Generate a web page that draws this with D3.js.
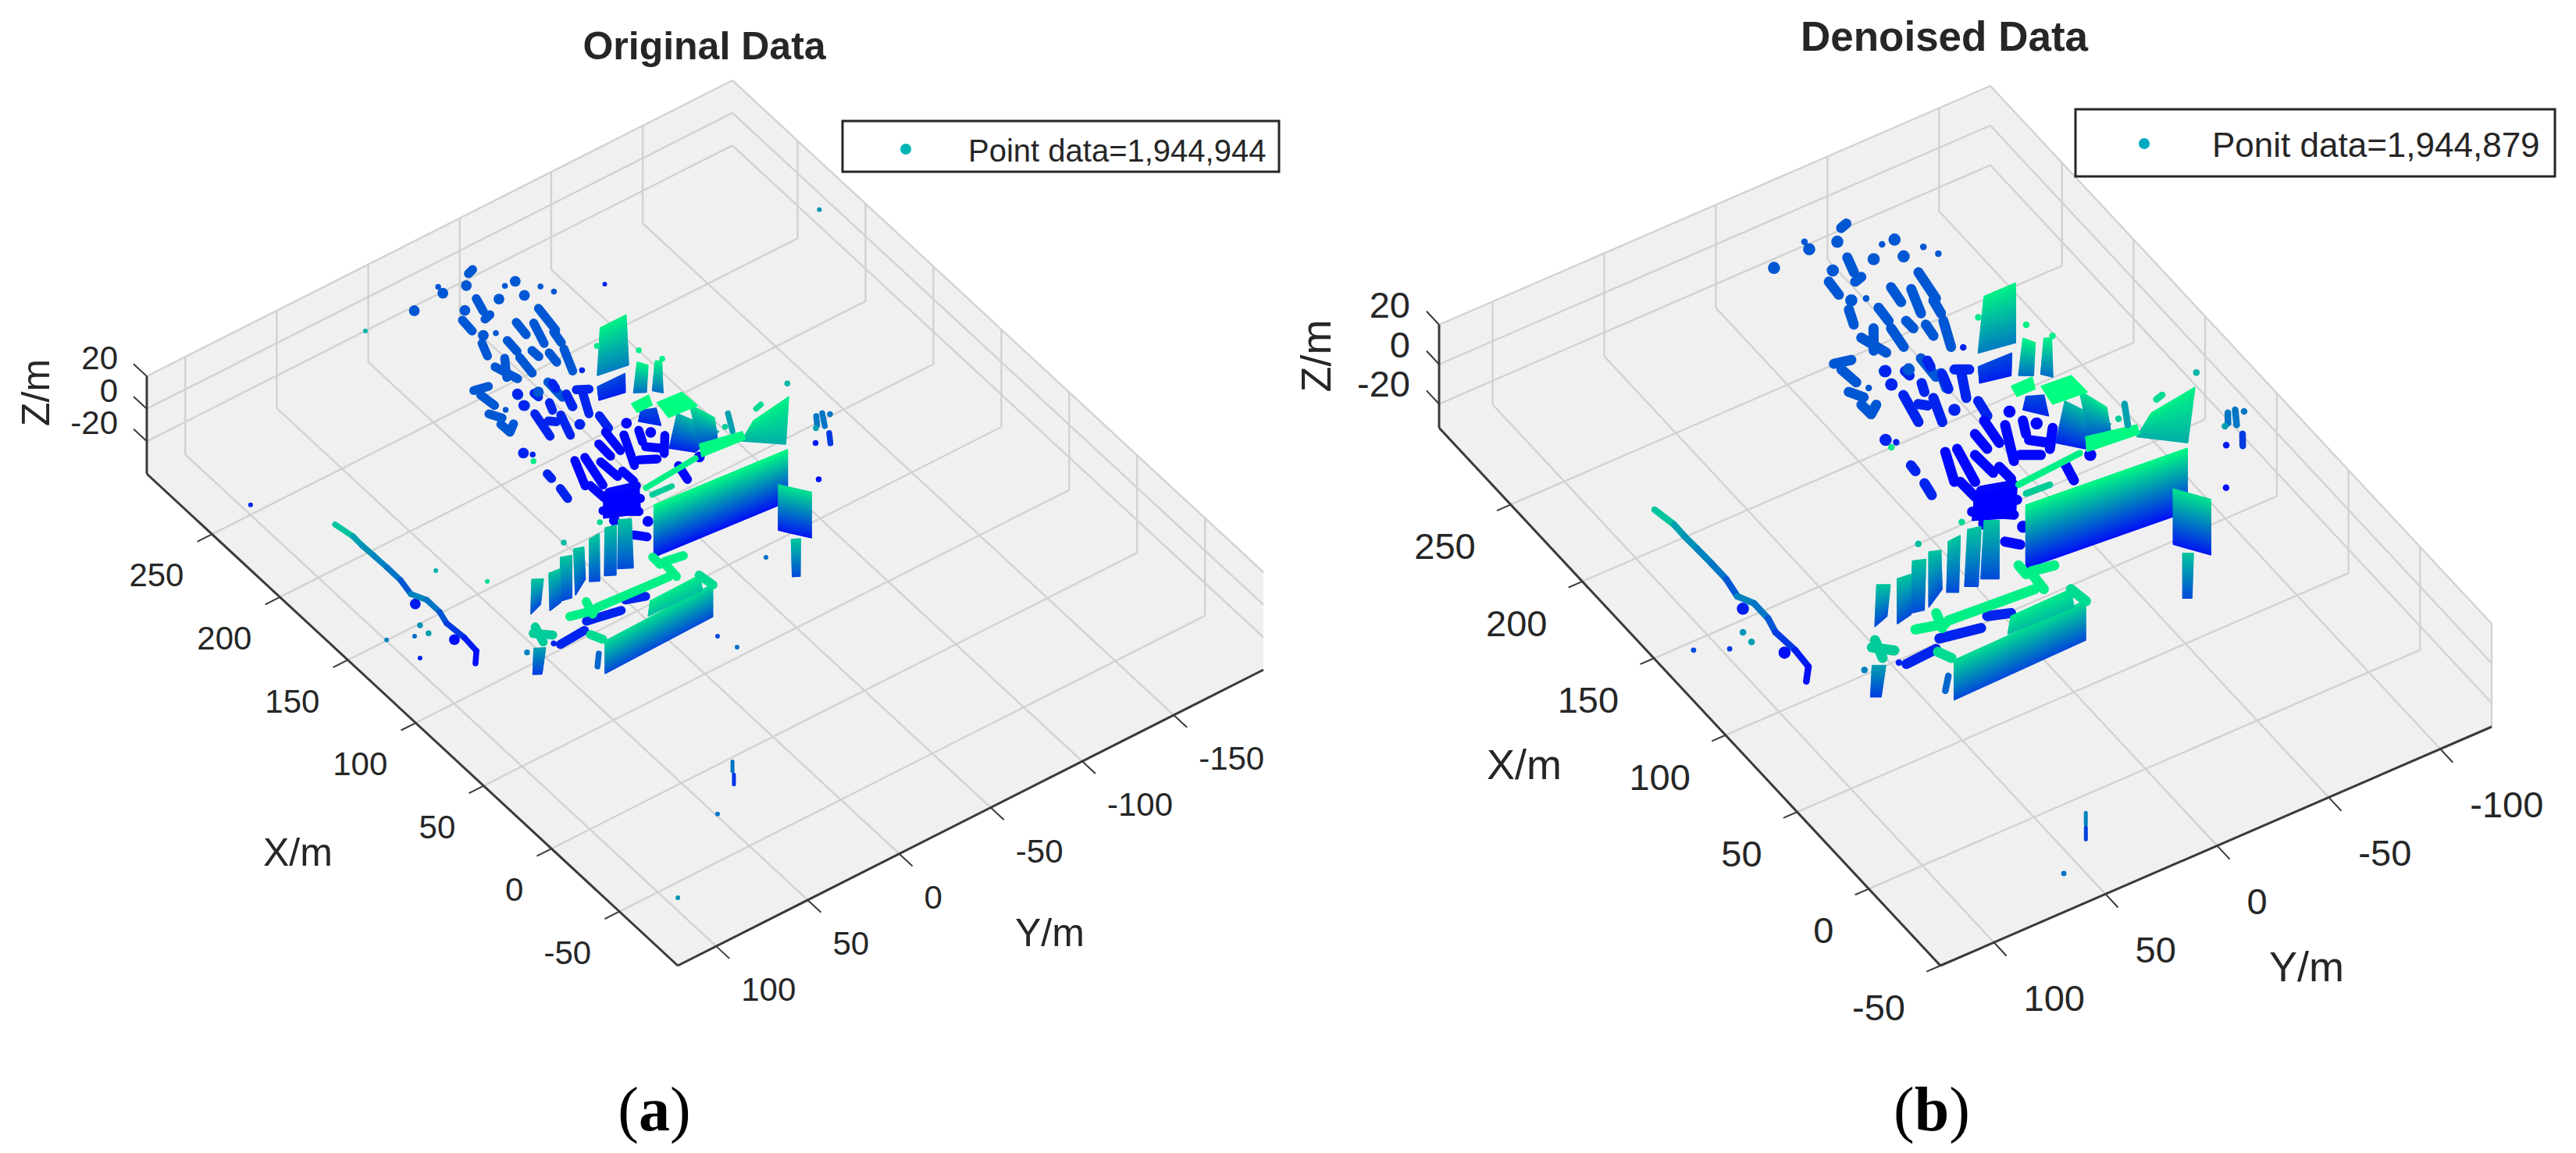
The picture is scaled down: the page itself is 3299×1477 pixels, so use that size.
<!DOCTYPE html>
<html>
<head>
<meta charset="utf-8">
<script src="https://cdn.jsdelivr.net/npm/d3@7"></script>
<style>
  body { margin: 0; background: #fff; }
  text { font-family: "Liberation Sans", Arial, sans-serif; fill: #262626; }
</style>
</head>
<body>
<div id="chart"></div>
<script>
// axis ticks
const xTicks = [-50, 0, 50, 100, 150, 200, 250];
const yTicksA = [100, 50, 0, -50, -100, -150];
const yTicksB = [100, 50, 0, -50, -100];
const zTicks = [20, 0, -20];

// scan rows: x0, y0, x1, y1, z (metres)
const treeRows = [
  [300,-58.5,299,-55.5,-18],[284.1,-48.7,275.9,-46.4,-18],[272.3,-47.4,271.3,-44,-18],
  [276.6,-35.6,268.5,-34.9,-18],[259.6,-33.7,251.7,-30.8,-18],[262.9,-67,247.3,-64.8,-18],
  [261.5,-53.8,252.6,-52.6,-18],[256.6,-59.7,243.4,-55.6,-18],[246.9,-63.4,239.4,-62,-18],
  [254.5,-43.7,246.4,-43,-18],[242.9,-48.6,238,-48.7,-18],[237.2,-53.8,230.5,-52.9,-18],
  [235.4,-60.5,221.8,-55.2,-18],[242.5,-41.6,231.3,-40.1,-18],[246,-36,235.6,-29.4,-18],
  [244.1,-29.3,232.2,-32.8,-18],[237.5,-12.8,235.8,-19.5,-18],[233.4,-13.5,224.4,-14.4,-18],
  [221.5,-9.2,216,-12.3,-18],[213,-9.4,206.7,-9.7,-18],[210,-14.1,206.7,-9.7,-18],
  [222.6,-42.2,211,-41.5,-18],[211.7,-44.2,203.8,-41.4,-18],
  [226.6,-47.7,223.2,-46.9,-25],[217.4,-48.4,209.3,-46,-25],[217.4,-39.2,212.7,-37.4,-25],
  [226.3,-37.4,223.3,-37.6,-25],[215.5,-29.8,200,-26.6,-25],[208.3,-31.9,205.8,-34.4,-25],
  [208.1,-38.5,195.2,-34.2,-25],[213.5,-54.6,201.5,-49,-25],[217.1,-53.7,214.1,-58.4,-25],
  [197.7,-51.9,189,-50.4,-25],
  [186.7,-43.4,177.4,-42.9,-29],[191.1,-50.3,177.7,-48.5,-29],[184.8,-55.7,166.4,-47.8,-29],
  [183.3,-62.7,176.5,-59.7,-29],[173.1,-58.9,167.5,-64.7,-29],[173.9,-70,164.8,-62.9,-29],
  [168,-51.6,163.8,-58.2,-29],[183.4,-33.3,164.5,-29.2,-29],[184.4,-28.6,168.7,-22.6,-29],
  [177,-37.2,165.1,-37.7,-29],[166.6,-41.4,158.7,-41.6,-29],[167.5,-24.5,157.6,-24.8,-29],
  [159.2,-28.5,155.3,-40.7,-29],[154.8,-63.3,145.4,-61.2,-29],[130.8,-21,126.4,-25,-29],
  [151.3,-19.4,141.5,-31.8,-29],[154.2,-24,147.8,-37.3,-29],
  [181.4,-11.3,177.8,-11,-25],[170.4,-10.3,163.4,-9.1,-25],
  [96.2,9.2,92.8,0.7,-25],[95.4,31.1,91.9,14.7,-25],[90.2,49.2,91.2,35.3,-25]
];

// single crowns: x, y, z
const treeCrowns = [
  [293.4,-50.2,-18],[295.6,-39,-18],[294,-22.2,-18],[282.9,-69.1,-18],[278,-56.6,-18],
  [273.3,-67,-18],[281,-40.2,-18],[263.4,-37.2,-18],[223.9,-26.8,-18],[216.5,-25,-18],
  [219.9,-35,-18],[230.2,-31.2,-25],[222.7,-29.1,-25],[198.4,-41.7,-25],[190.2,-61.1,-29],
  [179.2,-66.2,-29],[198.3,-10.8,-25],[143.3,-19.7,-29],[153.9,-74,-29],[134.1,-31.2,-29],
  [122.7,83,-28],[149.6,84.4,-26]
];

// surfaces: bottom-left, bottom-right, top-left, top-right, each x, y, z
const surfaces = [
  [[206.6,-58.3,-26],[203.8,-70.5,-26],[209,-59.2,-20],[208.6,-73.9,-20]],
  [[208.9,-59.1,-13],[206.2,-74.1,-13],[219.3,-68.4,3],[219.2,-82.4,3]],
  [[192.2,-66.5,-15],[189.2,-71.2,-15],[192.1,-68.4,3],[187.6,-70.9,3]],
  [[188.4,-74,-15],[184.6,-76.9,-15],[187.9,-75.1,3],[186.4,-77.5,3]],
  [[148.1,-17.4,-30],[140.8,-32.1,-30],[160,-26.3,-30],[154.4,-41.4,-30]],
  [[184.6,-63.6,-25],[176.7,-69.9,-25],[185.6,-65.6,-20],[182.7,-71.7,-20]],
  [[163.6,-64.8,-26],[154.9,-72.5,-26],[161.9,-67.8,-5],[140.2,-74.5,-3]],
  [[152.4,-72.5,-18],[149.3,-80.4,-18],[158.3,-72,1],[145.2,-75.7,1]],
  [[164.4,-48,5],[164.3,-55.9,5],[170.4,-49.2,5],[170.4,-58.5,5]],
  [[153.7,-57.1,5],[152.4,-71.7,5],[164.4,-58.7,5],[163.3,-71.4,5]],
  [[131.8,-80.7,-6],[118.8,-95.1,-6],[131.7,-87.2,3],[134.8,-108.6,3]],
  [[113.3,-19.1,-28],[107.2,-87.5,-28],[113.3,-19.1,4],[107.2,-87.5,4]],
  [[125.7,-54.5,4],[123.5,-76.5,4],[132.9,-58.5,4],[128.2,-78.3,4]],
  [[93.9,-72.7,-27],[81.5,-81.5,-27],[93.9,-72.7,1],[81.5,-81.5,1]],
  [[60.6,-55.6,-20],[58.8,-58.5,-20],[65.8,-58.9,-3],[63.7,-62.3,-3]],
  [[110.1,3.1,-20],[106.5,-2.7,-20],[120.9,-5.3,-3],[117.9,-10.1,-3]],
  [[109.9,10.5,-20],[107.2,6.2,-20],[120.1,2.6,-3],[118.7,-2.5,-3]],
  [[110.8,18,-20],[108.4,14.2,-20],[118.4,12.4,-3],[118.8,6.8,-3]],
  [[107.5,28.1,-20],[113.1,18.6,-20],[117.5,21.7,-3],[115.8,17.4,-3]],
  [[108.3,35.7,-20],[107,30.5,-20],[116.6,29.6,-3],[114.6,24.9,-3]],
  [[106.1,43.1,-20],[107.6,36.1,-20],[111.3,39.8,-3],[110.7,34.1,-3]],
  [[109.3,51.1,-20],[111.7,44.2,-20],[112.7,48.1,-3],[110,43.8,-3]],
  [[59.4,47.6,-20],[60.7,-12.1,-20],[59.4,47.6,0],[60.7,-12.1,0]],
  [[64.4,20.3,-4],[63.7,-8.7,-4],[66.6,17.5,2],[67.1,-9.6,2]],
  [[79.4,72.2,-22],[77.3,68.9,-22],[80.8,70.6,-8],[78.1,66.3,-8]]
];

// roof edges, drawn above the surfaces
const roofRows = [
  [78.7,52.6,75.4,41.3,3],[82.1,41.1,74,43.6,3],[76.2,39.4,73.4,2.5,3],[80.9,-1.1,71.6,-0.4,3],
  [82.3,-2,80.5,-10.8,3],[87.7,0.6,82.1,0.8,3],[68.9,-10.8,60.3,-12,0],[66.5,50.3,61,47.8,0],
  [86.5,65.7,76.7,68.6,-2],[83.7,68.9,77.8,62.6,-2]
];

const fineRows = [
  [125.1,-23.4,127.4,-52.3,3],[124.1,-26.1,123.4,-36.3,-2],[140.6,-97.7,139.7,-94.5,0],
  [151.3,-87.7,141,-82.5,-8],[132,-121.6,127.1,-118.5,-14],[131.9,-124.8,124.6,-120.8,-14],
  [129.4,-127.2,129.4,-127.2,-14],[126.6,-124.7,121,-121.2,-22],[68,44.7,61.7,50.1,-16]
];

const fineDots = [
  [300,-39.7,-18],[283.2,-63.7,-18],[273.7,-76.1,-18],[267.6,-78.9,-18],[261.3,-42.5,-18],
  [225.6,-63.1,-25],[195.1,-13.5,-25],[219.3,-16.7,-18],[197.7,-73.4,3],[187.3,-78.5,3],
  [148.7,-118.2,-5],[140.1,-77.8,-2],[121.9,4.1,0],[124.2,22.1,-4],[211.7,-60.9,2],
  [168.9,5.5,2],[110.5,-107,-28],[128.3,-118.5,-26],[120.8,-113.1,-8],[83.9,72.1,-12],
  [92.4,51.2,-25],[124,100.8,-10],[116,102.1,-8]
];

// the kerb line on the left of both scenes
const kerbLine = [
  [192.1,96.7,-3],[181.3,94.9,-3],[178.4,92.1,-8],[171.9,90.6,-10],[163.9,89.2,-12],
  [155.6,88,-14],[149.1,87.2,-18],[137,87.5,-12],[129.1,86.3,-14],[124.8,85.7,-18],
  [116.2,82.4,-22],[109.6,80.7,-26],[105,84.6,-28]
];

// isolated returns, only read in one panel each
const outliersA = [
  [234,-199,-10],[264,-104,-25],[285.4,10.9,-5],[242.5,105.5,-25],[126.8,117,-12],
  [124,103.8,-15],[119.7,104,-25],[143.8,77.5,-5],[120.7,66.5,0],[-47.1,65.2,-14],
  [-83.2,113.7,-10],[49.4,-6.4,-20],[34.5,-6,-15],[73.2,-50.5,-15]
];
const outliersB = [
  [134.8,116,-20],[130,102.9,-22],[-48.6,67.8,-14]
];
const poleA = [-24, 39.9, -26, 40.6, -14];
const poleB = [-26.7, 43.9, -28, 44.7, -12];

const colorOf = d3.scaleLinear().domain([-30, 5]).range(['#0000ff', '#00ff80']).clamp(true);

const svg = d3.select('#chart').append('svg')
  .attr('width', 3299).attr('height', 1477)
  .style('display', 'block');

const panels = [
  { title: 'Original Data', titleX: 902, titleY: 76, titleSize: 50,
    L: [188, 607], back: [938, 228], B: [868, 1237], h: 125,
    xLim: [-93, 298], yLim: [-199, 121], zLim: [-40, 20], yTicks: yTicksA,
    tickSize: 42, xOff: [-36, 52], yOff: [32, 55], zOff: [-37, -24], thick: 11.5, thin: 7.5,
    labelSize: 50, xLabel: [337, 1109], yLabel: [1300, 1212], zLabel: [63, 503],
    legend: { x: 1079, y: 155, w: 559, h: 65, mx: 1160, my: 191, tx: 1240, ty: 207, size: 40,
              color: '#00b4b4', text: 'Point data=1,944,944' },
    outliers: outliersA, pole: poleA, caption: 'a', capX: 838 },
  { title: 'Denoised Data', titleX: 2490, titleY: 65, titleSize: 53,
    L: [1843, 548], back: [2549, 242], B: [2485, 1237], h: 132,
    xLim: [-50, 300], yLim: [-123, 124], zLim: [-32, 20], yTicks: yTicksB,
    tickSize: 47, xOff: [-45, 53], yOff: [38, 71], zOff: [-37, -26], thick: 13, thin: 8.5,
    labelSize: 54, xLabel: [1904, 998], yLabel: [2906, 1257], zLabel: [1704, 456],
    legend: { x: 2658, y: 140, w: 614, h: 86, mx: 2746, my: 184, tx: 2833, ty: 201, size: 44,
              color: '#00a8c0', text: 'Ponit data=1,944,879' },
    outliers: outliersB, pole: poleB, caption: 'b', capX: 2474 }
];

panels.forEach((p) => {
  const g = svg.append('g');
  const xT = d3.scaleLinear().domain([p.xLim[1], p.xLim[0]]).range([0, 1]);
  const yT = d3.scaleLinear().domain([p.yLim[1], p.yLim[0]]).range([0, 1]);
  const zT = d3.scaleLinear().domain(p.zLim).range([0, p.h]);

  const ux = [p.B[0] - p.L[0], p.B[1] - p.L[1]];
  const uy = [p.back[0] - p.L[0], p.back[1] - p.L[1]];
  const proj = (x, y, z) => [
    p.L[0] + xT(x) * ux[0] + yT(y) * uy[0],
    p.L[1] + xT(x) * ux[1] + yT(y) * uy[1] - zT(z)
  ];

  const [xMin, xMax] = p.xLim, [yMin, yMax] = p.yLim, [zMin, zMax] = p.zLim;
  const line = d3.line();

  // floor and the two back walls, as one shape
  g.append('path')
    .attr('d', line([
      proj(xMax, yMax, zMin), proj(xMax, yMax, zMax), proj(xMax, yMin, zMax),
      proj(xMin, yMin, zMax), proj(xMin, yMin, zMin), proj(xMin, yMax, zMin)
    ]) + 'Z')
    .attr('fill', '#f0f0f0');

  const gridLine = (a, b) => g.append('path').attr('d', line([a, b]))
    .attr('fill', 'none').attr('stroke', '#d2d2d2').attr('stroke-width', 2.4);

  xTicks.forEach((x) => {
    gridLine(proj(x, yMax, zMin), proj(x, yMin, zMin));
    gridLine(proj(x, yMin, zMin), proj(x, yMin, zMax));
  });
  p.yTicks.forEach((y) => {
    gridLine(proj(xMax, y, zMin), proj(xMin, y, zMin));
    gridLine(proj(xMax, y, zMin), proj(xMax, y, zMax));
  });
  zTicks.forEach((z) => {
    gridLine(proj(xMax, yMax, z), proj(xMax, yMin, z));
    gridLine(proj(xMax, yMin, z), proj(xMin, yMin, z));
  });

  // axis lines and ticks
  const axisLine = (a, b, w) => g.append('path').attr('d', line([a, b]))
    .attr('fill', 'none').attr('stroke', '#3a3a3a').attr('stroke-width', w);
  axisLine(proj(xMax, yMax, zMin), proj(xMin, yMax, zMin), 3);
  axisLine(proj(xMin, yMax, zMin), proj(xMin, yMin, zMin), 3);
  axisLine(proj(xMax, yMax, zMin), proj(xMax, yMax, zMax), 3);

  const dx = (xMax - xMin) * 0.025, dy = (yMax - yMin) * 0.025;
  xTicks.forEach((x) => axisLine(proj(x, yMax, zMin), proj(x, yMax + dy, zMin), 2));
  p.yTicks.forEach((y) => axisLine(proj(xMin, y, zMin), proj(xMin - dx, y, zMin), 2));
  zTicks.forEach((z) => axisLine(proj(xMax, yMax, z), proj(xMax + dx, yMax, z), 2));

  // points
  const cloud = g.append('g').attr('fill', 'none').attr('stroke-linecap', 'round');
  const stroke = (a, b, z, w) => cloud.append('path').attr('d', line([a, b]))
    .attr('stroke', colorOf(z)).attr('stroke-width', w);

  treeRows.forEach((r) => stroke(proj(r[0], r[1], r[4]), proj(r[2], r[3], r[4]), r[4], p.thick));
  treeCrowns.forEach((c) => stroke(proj(c[0], c[1], c[2]), proj(c[0], c[1], c[2]), c[2], p.thick * 1.2));

  // surfaces are cut in bands so colour follows z
  const bands = d3.range(0, 1, 0.04);
  surfaces.forEach((s) => {
    const [bl, br, tl, tr] = s;
    const at = (a, b, t) => [0, 1, 2].map((i) => a[i] + (b[i] - a[i]) * t);
    bands.forEach((t) => {
      const a0 = at(bl, tl, t), b0 = at(br, tr, t);
      const a1 = at(bl, tl, t + 0.04), b1 = at(br, tr, t + 0.04);
      const c = colorOf((a0[2] + a1[2]) / 2);
      cloud.append('path')
        .attr('d', line([proj(...a0), proj(...b0), proj(...b1), proj(...a1)]) + 'Z')
        .attr('fill', c).attr('stroke', c).attr('stroke-width', 1.5).attr('stroke-linejoin', 'round');
    });
  });

  roofRows.forEach((r) => stroke(proj(r[0], r[1], r[4]), proj(r[2], r[3], r[4]), r[4], p.thick));
  fineRows.forEach((r) => stroke(proj(r[0], r[1], r[4]), proj(r[2], r[3], r[4]), r[4], p.thin));
  fineDots.forEach((c) => stroke(proj(c[0], c[1], c[2]), proj(c[0], c[1], c[2]), c[2], p.thin));
  p.outliers.forEach((c) => stroke(proj(c[0], c[1], c[2]), proj(c[0], c[1], c[2]), c[2], p.thin * 0.8));
  kerbLine.slice(1).forEach((c, i) => {
    const prev = kerbLine[i];
    stroke(proj(prev[0], prev[1], prev[2]), proj(c[0], c[1], c[2]), c[2], p.thin);
  });
  stroke(proj(p.pole[0], p.pole[1], p.pole[4]), proj(p.pole[0], p.pole[1], p.pole[4] - 6), p.pole[4], 5);
  stroke(proj(p.pole[2], p.pole[3], p.pole[4] - 6), proj(p.pole[2], p.pole[3], p.pole[4] - 12), p.pole[4] - 9, 5);

  // tick labels
  const tick = (pos, off, anchor, s) => g.append('text')
    .attr('x', pos[0] + off[0]).attr('y', pos[1] + off[1]).attr('dy', '0.36em')
    .attr('text-anchor', anchor).attr('font-size', p.tickSize).text(s);
  xTicks.forEach((x) => tick(proj(x, yMax, zMin), p.xOff, 'end', x));
  p.yTicks.forEach((y) => tick(proj(xMin, y, zMin), p.yOff, 'start', y));
  zTicks.forEach((z) => tick(proj(xMax, yMax, z), p.zOff, 'end', z));

  // axis labels
  g.append('text').attr('x', p.xLabel[0]).attr('y', p.xLabel[1]).attr('font-size', p.labelSize).text('X/m');
  g.append('text').attr('x', p.yLabel[0]).attr('y', p.yLabel[1]).attr('font-size', p.labelSize).text('Y/m');
  g.append('text').attr('transform', `translate(${p.zLabel[0]},${p.zLabel[1]}) rotate(-90)`)
    .attr('text-anchor', 'middle').attr('font-size', p.labelSize).text('Z/m');

  // title
  g.append('text').attr('x', p.titleX).attr('y', p.titleY).attr('text-anchor', 'middle')
    .attr('font-size', p.titleSize).attr('font-weight', 'bold').text(p.title);

  // legend
  const lg = p.legend;
  g.append('rect').attr('x', lg.x).attr('y', lg.y).attr('width', lg.w).attr('height', lg.h)
    .attr('fill', '#fff').attr('stroke', '#262626').attr('stroke-width', 3);
  g.append('circle').attr('cx', lg.mx).attr('cy', lg.my).attr('r', 7).attr('fill', lg.color);
  g.append('text').attr('x', lg.tx).attr('y', lg.ty).attr('font-size', lg.size).text(lg.text);

  // sub-figure caption
  const cap = g.append('text').attr('x', p.capX).attr('y', 1448).attr('text-anchor', 'middle')
    .attr('font-size', 80).style('font-family', '"Liberation Serif", serif').style('fill', '#000');
  cap.append('tspan').text('(');
  cap.append('tspan').attr('font-weight', 'bold').text(p.caption);
  cap.append('tspan').text(')');
});
</script>
</body>
</html>
